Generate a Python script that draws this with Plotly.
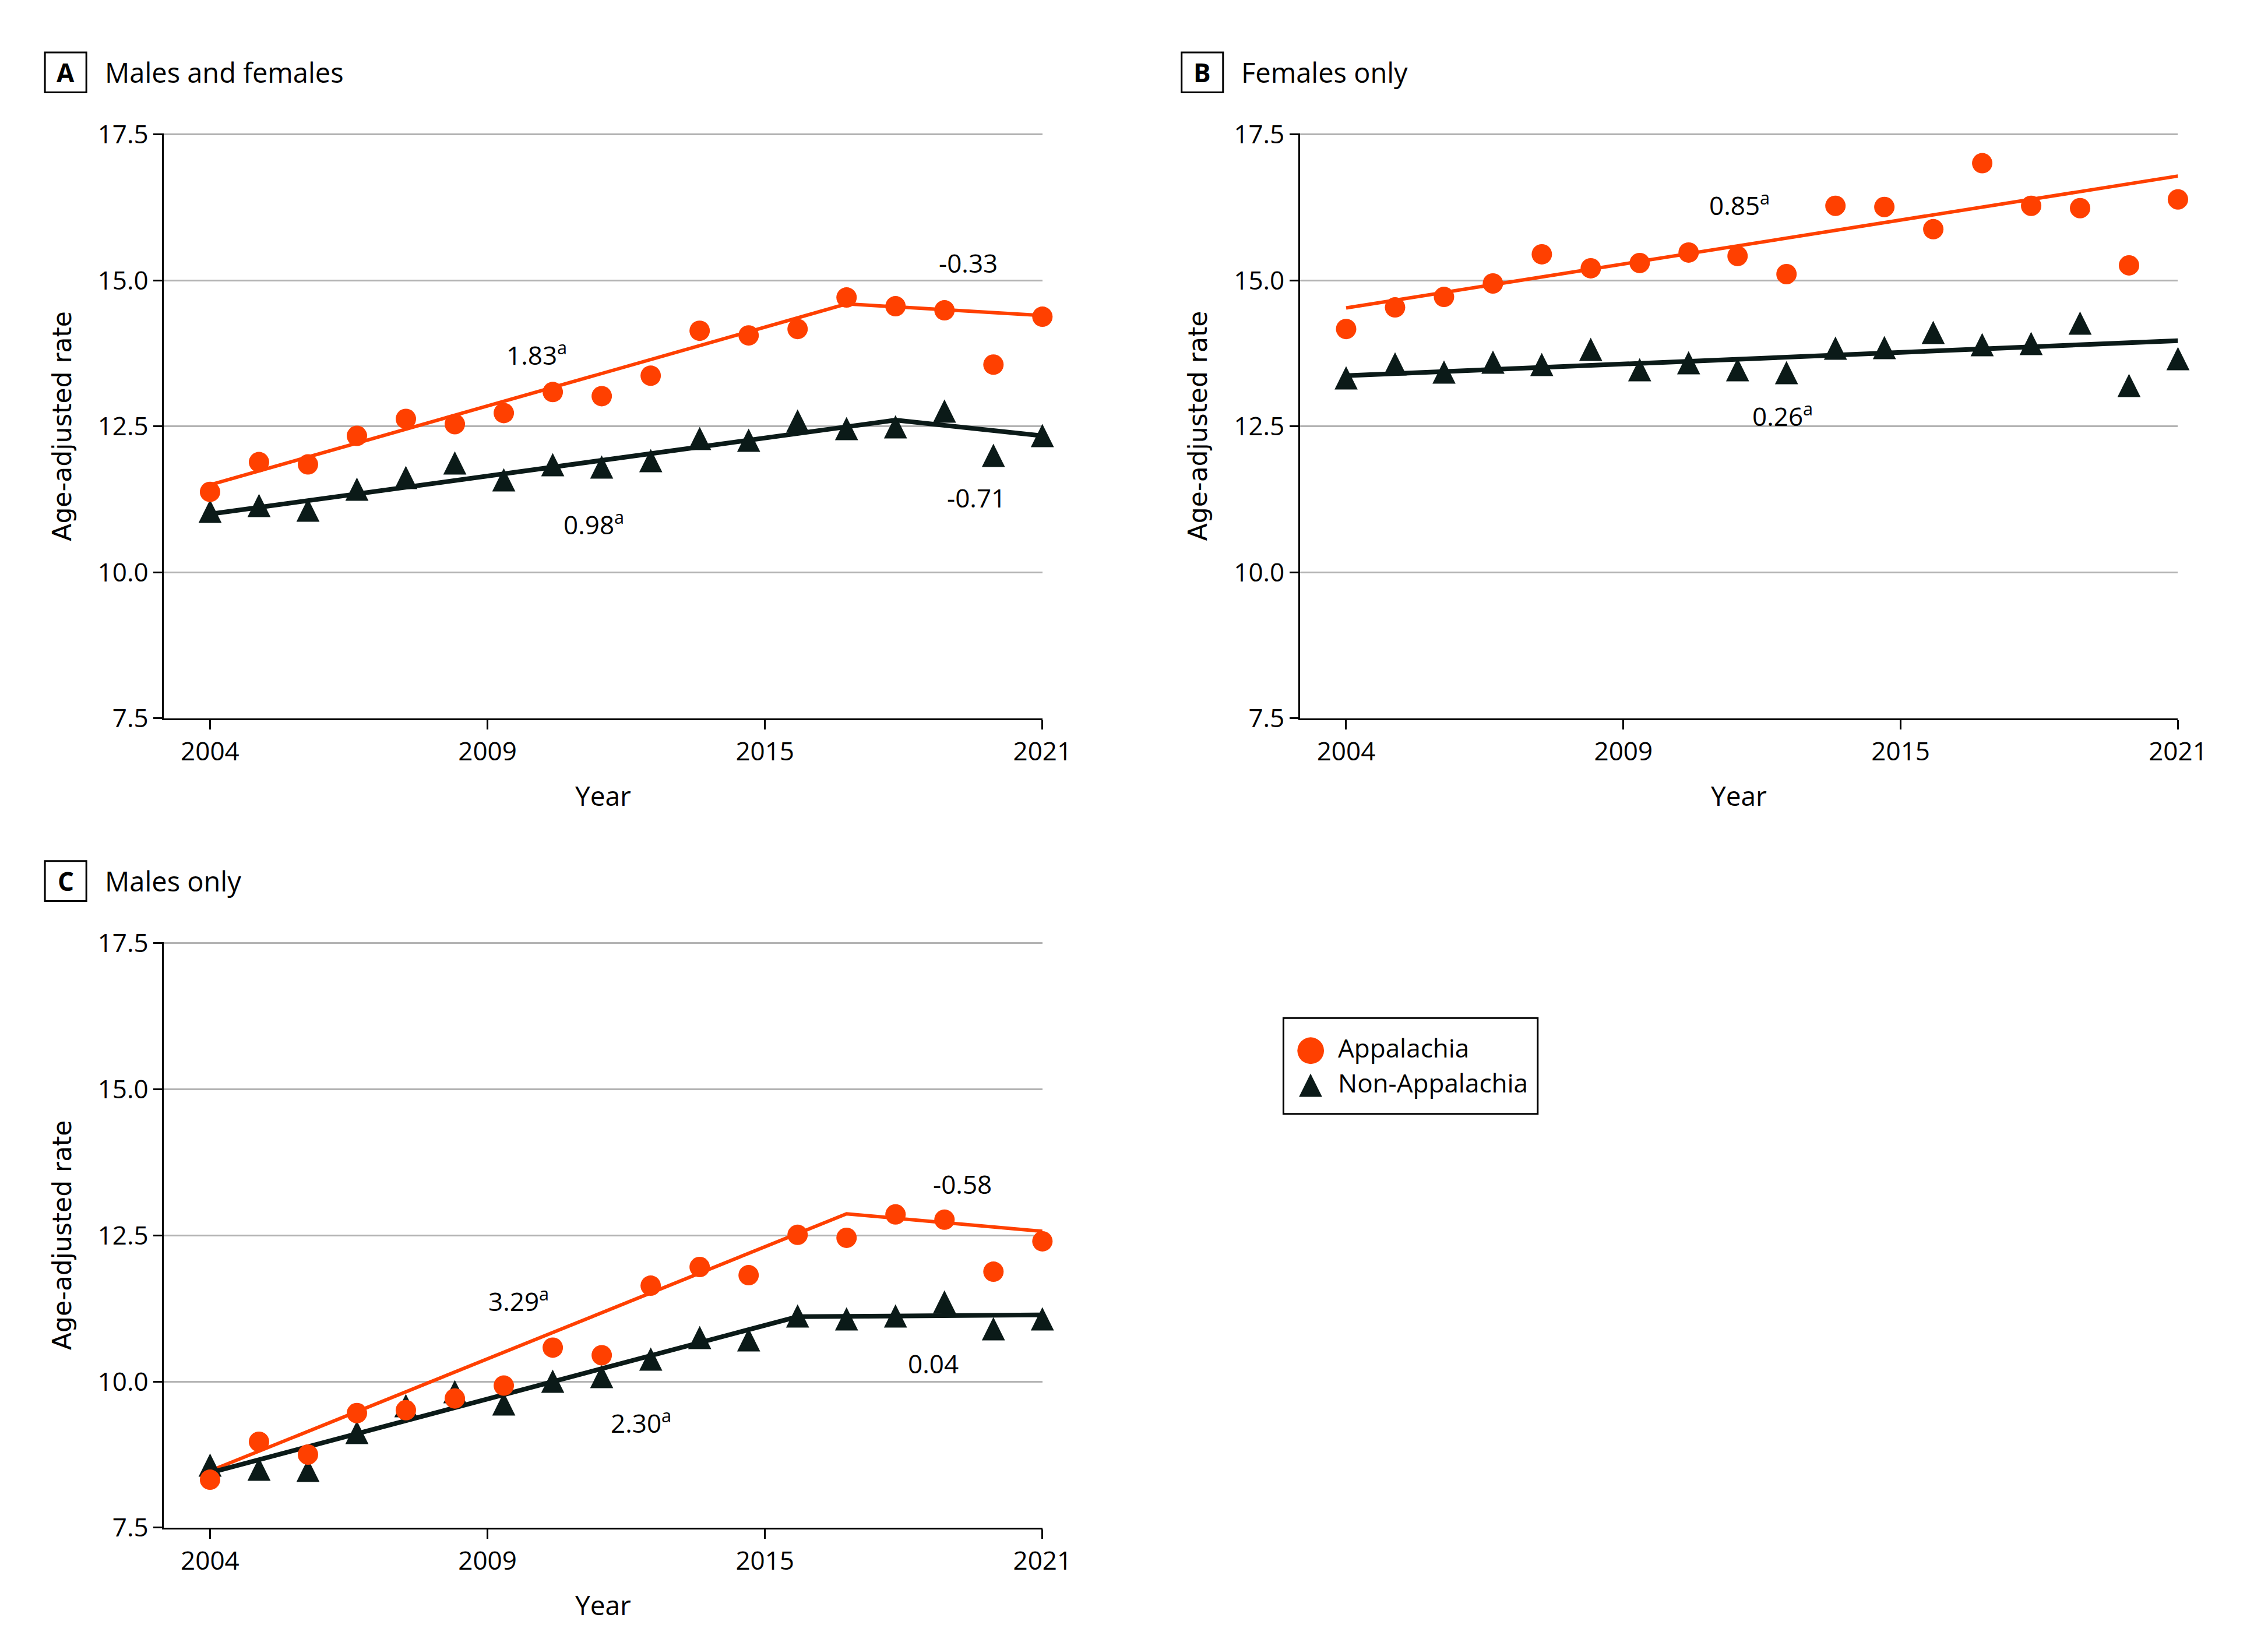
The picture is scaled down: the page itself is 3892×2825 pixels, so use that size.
import numpy as np
import plotly.graph_objects as go

W, H = 3892, 2825

years = list(range(2004, 2022))
year_ticks = ['2004', '2009', '2015', '2021']
rate_ticks = [7.5, 10.0, 12.5, 15.0, 17.5]

# A - males and females
a_app = [11.38, 11.89, 11.85, 12.34, 12.63, 12.54, 12.73, 13.09, 13.02, 13.37,
         14.14, 14.06, 14.17, 14.71, 14.56, 14.49, 13.56, 14.38]
a_non = [11.04, 11.14, 11.06, 11.42, 11.62, 11.87, 11.58, 11.84, 11.80, 11.91,
         12.29, 12.26, 12.59, 12.46, 12.49, 12.76, 12.00, 12.34]
a_app_fit_years = [2004, 2017, 2021]
a_app_fit = [11.50, 14.60, 14.40]
a_non_fit_years = [2004, 2018, 2021]
a_non_fit = [11.00, 12.61, 12.34]
a_apc = ['1.83<sup>a</sup>', '-0.33', '0.98<sup>a</sup>', '-0.71']

# B - females only
b_app = [14.17, 14.54, 14.72, 14.95, 15.45, 15.21, 15.30, 15.48, 15.42, 15.11,
         16.28, 16.26, 15.88, 17.01, 16.28, 16.24, 15.26, 16.39]
b_non = [13.33, 13.57, 13.43, 13.60, 13.56, 13.82, 13.47, 13.59, 13.47, 13.42,
         13.84, 13.85, 14.11, 13.90, 13.92, 14.27, 13.20, 13.66]
b_app_fit_years = [2004, 2021]
b_app_fit = [14.53, 16.79]
b_non_fit_years = [2004, 2021]
b_non_fit = [13.37, 13.97]
b_apc = ['0.85<sup>a</sup>', '0.26<sup>a</sup>']

# C - males only
c_app = [8.32, 8.97, 8.75, 9.46, 9.51, 9.71, 9.93, 10.58, 10.45, 11.64,
         11.96, 11.82, 12.51, 12.46, 12.86, 12.77, 11.88, 12.40]
c_non = [8.57, 8.50, 8.48, 9.12, 9.58, 9.82, 9.61, 10.00, 10.08, 10.38,
         10.75, 10.71, 11.12, 11.07, 11.12, 11.36, 10.90, 11.07]
c_app_fit_years = [2004, 2017, 2021]
c_app_fit = [8.47, 12.87, 12.57]
c_non_fit_years = [2004, 2016, 2021]
c_non_fit = [8.44, 11.11, 11.14]
c_apc = ['3.29<sup>a</sup>', '-0.58', '2.30<sup>a</sup>', '0.04']

ORANGE = '#FF4000'
DARK = '#0B1A18'
FONT = 'Open Sans, Noto Sans, sans-serif'


def px_x(v):
    return v / W


def px_y(v):
    return 1 - v / H


fig = go.Figure()

panels = [
    dict(ax='', letter='A', title='Males and females', app=a_app, non=a_non,
         app_fit=(a_app_fit_years, a_app_fit), non_fit=(a_non_fit_years, a_non_fit),
         labels=list(zip(a_apc, [(2010.67, 13.75), (2019.48, 15.30), (2011.84, 10.84), (2019.65, 11.28)])),
         xdom=(277, 1804), ydom=(195, 1220), box=(70, 53), title_x=172),
    dict(ax='2', letter='B', title='Females only', app=b_app, non=b_non,
         app_fit=(b_app_fit_years, b_app_fit), non_fit=(b_non_fit_years, b_non_fit),
         labels=list(zip(b_apc, [(2012.04, 16.31), (2012.92, 12.70)])),
         xdom=(2252, 3778), ydom=(195, 1220), box=(2046, 53), title_x=2148),
    dict(ax='3', letter='C', title='Males only', app=c_app, non=c_non,
         app_fit=(c_app_fit_years, c_app_fit), non_fit=(c_non_fit_years, c_non_fit),
         labels=list(zip(c_apc, [(2010.30, 11.40), (2019.36, 13.38), (2012.80, 9.31), (2018.77, 10.31)])),
         xdom=(277, 1804), ydom=(1612, 2638), box=(70, 1470), title_x=172),
]

annotations = []
shapes = []

for p in panels:
    xa, ya = 'x' + p['ax'], 'y' + p['ax']
    fig.add_trace(go.Scatter(x=p['app_fit'][0], y=p['app_fit'][1], mode='lines',
                             line=dict(color=ORANGE, width=6), xaxis=xa, yaxis=ya))
    fig.add_trace(go.Scatter(x=p['non_fit'][0], y=p['non_fit'][1], mode='lines',
                             line=dict(color=DARK, width=8), xaxis=xa, yaxis=ya))
    # triangles drawn as text glyphs so they keep the taller shape of the original
    fig.add_trace(go.Scatter(x=years, y=p['non'], mode='text', text=['▲'] * len(years),
                             textposition='middle center', cliponaxis=False,
                             textfont=dict(family='DejaVu Sans', size=52, color=DARK),
                             xaxis=xa, yaxis=ya))
    fig.add_trace(go.Scatter(x=years, y=p['app'], mode='markers', cliponaxis=False,
                             marker=dict(symbol='circle', size=35, color=ORANGE, line=dict(width=0)),
                             xaxis=xa, yaxis=ya))

    x0, x1 = p['xdom']
    y0, y1 = p['ydom']
    fig.update_layout(**{
        'xaxis' + p['ax']: dict(
            domain=[px_x(x0), px_x(x1)], anchor=ya, range=[2003.06, 2021],
            tickvals=np.linspace(2004, 2021, 4), ticktext=year_ticks,
            ticks='outside', ticklen=16, tickwidth=3, tickcolor='black',
            showline=True, linecolor='black', linewidth=3, showgrid=False, zeroline=False,
            tickfont=dict(family=FONT, size=44, color='black')),
        'yaxis' + p['ax']: dict(
            domain=[px_y(y1), px_y(y0)], anchor=xa, range=[7.5, 17.52],
            tickvals=rate_ticks, ticktext=['%.1f' % v for v in rate_ticks],
            ticks='outside', ticklen=15, tickwidth=3, tickcolor='black',
            showline=True, linecolor='black', linewidth=3,
            showgrid=True, gridcolor='#B3B3B3', gridwidth=3, zeroline=False,
            tickfont=dict(family=FONT, size=44, color='black')),
    })

    for text, (lx, ly) in p['labels']:
        annotations.append(dict(x=lx, y=ly, xref=xa, yref=ya, text=text, showarrow=False,
                                font=dict(family=FONT, size=44, color='black')))

    # panel letter box and title
    bx, by = p['box']
    shapes.append(dict(type='rect', xref='paper', yref='paper',
                       x0=px_x(bx), x1=px_x(bx + 72), y0=px_y(by + 70), y1=px_y(by),
                       line=dict(color='black', width=3)))
    annotations.append(dict(x=px_x(bx + 36), y=px_y(by + 35), xref='paper', yref='paper',
                            text='<b>%s</b>' % p['letter'], showarrow=False,
                            xanchor='center', yanchor='middle',
                            font=dict(family=FONT, size=44, color='black')))
    annotations.append(dict(x=px_x(p['title_x']), y=px_y(by + 35), xref='paper', yref='paper',
                            text=p['title'], showarrow=False, xanchor='left', yanchor='middle',
                            font=dict(family=FONT, size=47, color='black')))

    # axis titles
    annotations.append(dict(x=px_x(x0 - 177), y=px_y((y0 + y1) / 2), xref='paper', yref='paper',
                            text='Age-adjusted rate', textangle=-90, showarrow=False,
                            xanchor='center', yanchor='middle',
                            font=dict(family='DejaVu Sans', size=44, color='black')))
    annotations.append(dict(x=px_x((x0 + x1) / 2), y=px_y(y1 + 135), xref='paper', yref='paper',
                            text='Year', showarrow=False, xanchor='center', yanchor='middle',
                            font=dict(family=FONT, size=46, color='black')))

# legend
shapes.append(dict(type='rect', xref='paper', yref='paper',
                   x0=px_x(2223), x1=px_x(2665), y0=px_y(1913), y1=px_y(1745),
                   line=dict(color='black', width=3)))
legend_items = [('●', ORANGE, 60, 'Appalachia', 1797), ('▲', DARK, 52, 'Non-Appalachia', 1858)]
for sym, col, size, name, ly in legend_items:
    annotations.append(dict(x=px_x(2270), y=px_y(ly), xref='paper', yref='paper', text=sym,
                            showarrow=False, xanchor='center', yanchor='middle',
                            font=dict(family='DejaVu Sans', size=size, color=col)))
    annotations.append(dict(x=px_x(2316), y=px_y(ly), xref='paper', yref='paper', text=name,
                            showarrow=False, xanchor='left', yanchor='middle',
                            font=dict(family=FONT, size=44, color='black')))

fig.update_layout(
    width=W, height=H,
    margin=dict(l=0, r=0, t=0, b=0),
    paper_bgcolor='white', plot_bgcolor='white',
    showlegend=False,
    annotations=annotations,
    shapes=shapes,
)

fig.write_html("out.html")
